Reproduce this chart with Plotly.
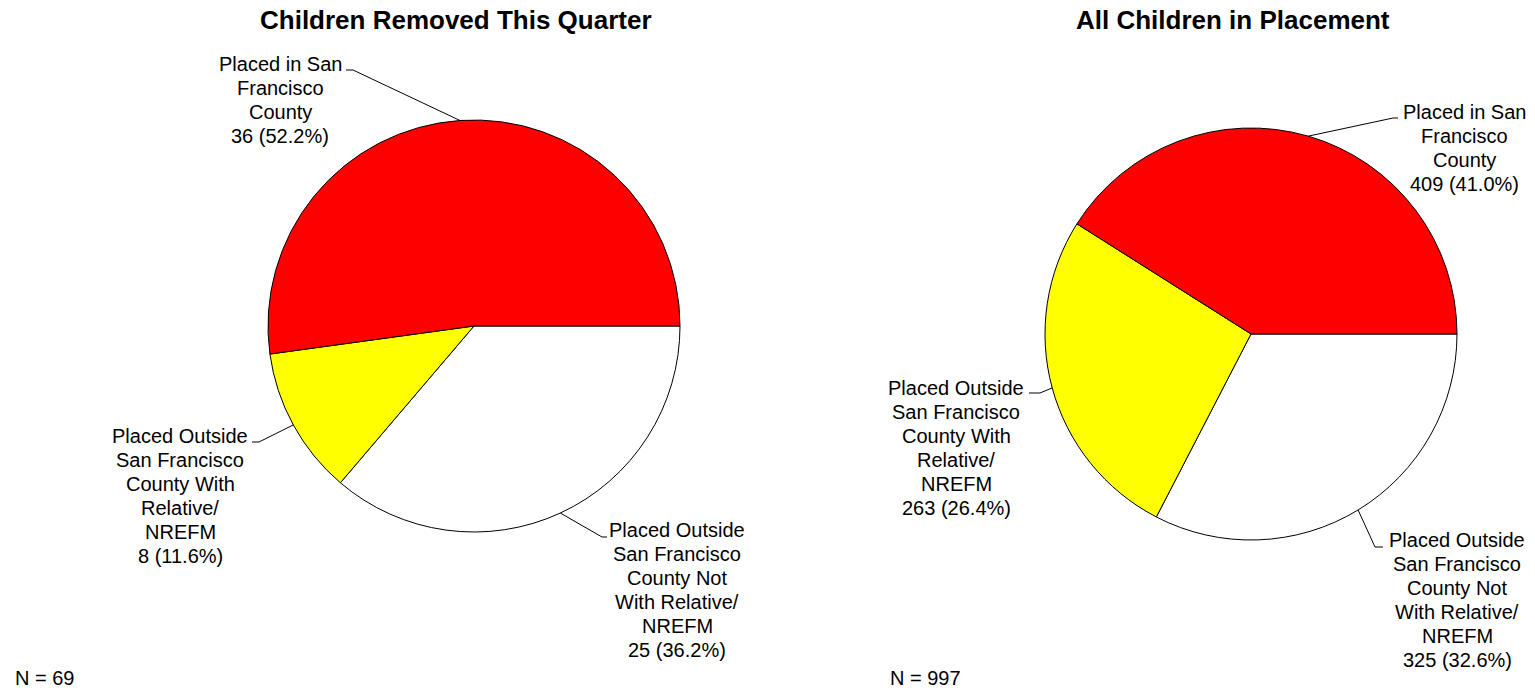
import math
import plotly.graph_objects as go

W, H = 1535, 691

# ---- data ----
categories = [
    "Placed in San Francisco County",
    "Placed Outside San Francisco County With Relative/ NREFM",
    "Placed Outside San Francisco County Not With Relative/ NREFM",
]
label_lines = [
    ["Placed in San", "Francisco", "County"],
    ["Placed Outside", "San Francisco", "County With", "Relative/", "NREFM"],
    ["Placed Outside", "San Francisco", "County Not", "With Relative/", "NREFM"],
]
removed_values = [36, 8, 25]
placement_values = [409, 263, 325]
colors = ["#FF0000", "#FFFF00", "#FFFFFF"]
titles = ["Children Removed This Quarter", "All Children in Placement"]

FONT = "Liberation Sans, Arial, sans-serif"

# ---- layout constants (pixels) ----
pies = [
    dict(values=removed_values, cx=474, cy=326, r=206, title_x=456,
         n_x=13,
         labels=[dict(tx=280, ty=64, ex=353, ey=70, endx=346),
                 dict(tx=180, ty=436, ex=259, ey=442, endx=252),
                 dict(tx=677, ty=530, ex=602, ey=537, endx=607)]),
    dict(values=placement_values, cx=1251, cy=334, r=206, title_x=1233,
         n_x=888,
         labels=[dict(tx=1464, ty=112, ex=1393, ey=118, endx=1398),
                 dict(tx=956, ty=388, ex=1040, ey=393, endx=1029),
                 dict(tx=1457, ty=540, ex=1375, ey=547, endx=1383)]),
]


def px(x):
    return x / W


def py(y):
    return 1 - y / H


fig = go.Figure()
annotations = []
shapes = []

for k, p in enumerate(pies):
    vals = p["values"]
    total = sum(vals)
    cx, cy, r = p["cx"], p["cy"], p["r"]
    # clockwise from 3 o'clock in reversed order == counterclockwise in original order
    fig.add_trace(go.Pie(
        labels=categories[::-1],
        values=vals[::-1],
        sort=False,
        direction="clockwise",
        rotation=90,
        marker=dict(colors=colors[::-1], line=dict(color="#000000", width=1)),
        textinfo="none",
        hoverinfo="label+value+percent",
        showlegend=False,
        domain=dict(x=[px(cx - r), px(cx + r)], y=[py(cy + r), py(cy - r)]),
    ))
    cum = 0
    for i, v in enumerate(vals):
        mid = 360.0 * (cum + v / 2) / total
        cum += v
        edge_x = cx + r * math.cos(math.radians(mid))
        edge_y = cy - r * math.sin(math.radians(mid))
        lab = p["labels"][i]
        shapes.append(dict(
            type="path", xref="paper", yref="paper",
            path=f"M {px(edge_x)},{py(edge_y)} L {px(lab['ex'])},{py(lab['ey'])} L {px(lab['endx'])},{py(lab['ey'])}",
            line=dict(color="#000000", width=1),
        ))
        lines = label_lines[i] + [f"{v} ({100 * v / total:.1f}%)"]
        for j, t in enumerate(lines):
            annotations.append(dict(
                x=px(lab["tx"]), y=py(lab["ty"] + 24 * j), xref="paper", yref="paper",
                text=t, showarrow=False, xanchor="center", yanchor="middle",
                font=dict(family=FONT, size=20, color="#000000"),
            ))
    annotations.append(dict(
        x=px(p["title_x"]), y=py(20), xref="paper", yref="paper",
        text=f"<b>{titles[k]}</b>", showarrow=False,
        xanchor="center", yanchor="middle",
        font=dict(family=FONT, size=26, color="#000000"),
    ))
    annotations.append(dict(
        x=px(p["n_x"]), y=0, xref="paper", yref="paper",
        text=f"N = {total}", showarrow=False, xanchor="left", yanchor="bottom",
        font=dict(family=FONT, size=20, color="#000000"),
    ))

fig.update_layout(
    width=W, height=H,
    margin=dict(l=0, r=0, t=0, b=0),
    paper_bgcolor="#FFFFFF",
    plot_bgcolor="#FFFFFF",
    annotations=annotations,
    shapes=shapes,
)

fig.write_html(
    "out.html",
    config={"displayModeBar": False},
    post_script="document.body.style.margin='0';document.body.style.overflow='hidden';",
)
